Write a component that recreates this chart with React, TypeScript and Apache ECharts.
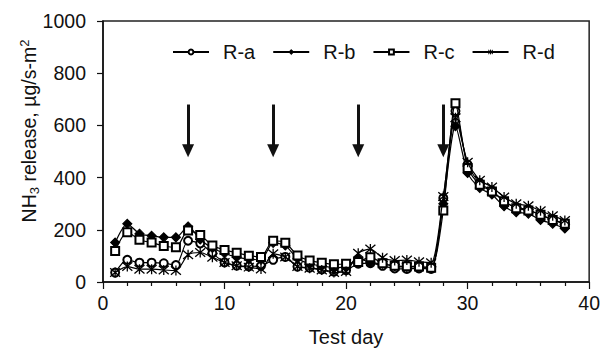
import React, { useEffect, useRef } from "react";
import * as echarts from "echarts";

const days = [1,2,3,4,5,6,7,8,9,10,11,12,13,14,15,16,17,18,19,20,21,22,23,24,25,26,27,28,29,30,31,32,33,34,35,36,37,38];
const seriesNames = ["R-a", "R-b", "R-c", "R-d"];
const ra = [36,85,74,74,72,65,158,148,110,75,63,60,62,85,96,59,55,48,40,45,70,72,62,52,50,52,50,322,655,450,379,350,310,285,278,255,240,222];
const rb = [151,223,185,177,171,171,213,163,130,110,95,88,85,150,140,90,70,62,55,58,90,74,70,60,58,58,55,300,597,418,360,335,290,267,262,238,223,205];
const rc = [119,191,162,151,138,133,197,180,140,123,112,101,96,158,150,102,82,74,68,70,77,95,72,62,60,59,55,274,685,437,373,347,309,283,274,258,238,223];
const rd = [36,59,49,49,46,44,104,113,95,75,62,57,50,108,96,59,53,46,36,40,110,126,93,82,84,78,74,328,629,459,390,364,326,300,292,273,254,236];
const arrowDays = [7, 14, 21, 28];
const ARROW_TOP = 680;
const ARROW_HEAD = 503;

const FONT = "Liberation Sans, Arial, sans-serif";
const STAR = "path://M0,-1L0,1M-0.85,-0.85L0.85,0.85M-0.85,0.85L0.85,-0.85";

export default function App() {
  const ref = useRef<HTMLDivElement>(null);
  useEffect(() => {
    if (!ref.current) return;
    const chart = echarts.init(ref.current, null, { renderer: "svg" });
    const mk = (vals: number[]) => days.map((d, i) => [d, vals[i]]);
    const symbols = ["emptyCircle", "diamond", "emptyRect", STAR];
    const sizes = [8, 9, 8, 10];
    const data = [ra, rb, rc, rd];
    const series: any[] = data.map((vals, i) => ({
      type: "line",
      name: seriesNames[i],
      data: mk(vals),
      symbol: symbols[i],
      symbolSize: sizes[i],
      showAllSymbol: true,
      smooth: 0.25,
      lineStyle: { color: "#000", width: 1.2 },
      itemStyle: {
        color: "#000",
        borderColor: "#000",
        borderWidth: i === 3 ? 1.3 : 1.1,
      },
      emphasis: { disabled: true },
      z: 3 + i,
    }));
    series[0].markLine = {
      silent: true,
      symbol: ["none", "triangle"],
      symbolSize: [12, 13],
      label: { show: false },
      lineStyle: { color: "#111", width: 3, type: "solid" },
      data: arrowDays.map((d) => [
        { coord: [d, ARROW_TOP] },
        { coord: [d, ARROW_HEAD] },
      ]),
    };
    chart.setOption({
      animation: false,
      backgroundColor: "#fff",
      textStyle: { fontFamily: FONT },
      grid: {
        left: 103,
        right: 10,
        top: 21,
        bottom: 70,
        show: true,
        borderColor: "#222",
        borderWidth: 1.5,
      },
      legend: {
        data: seriesNames,
        left: 167,
        top: 37,
        itemWidth: 36,
        itemHeight: 6,
        itemGap: 17,
        itemStyle: { borderWidth: 1 },
        textStyle: { fontSize: 20, color: "#111", fontFamily: FONT, padding: [0, 0, 0, 9] },
      },
      xAxis: {
        type: "value",
        min: 0,
        max: 40,
        interval: 10,
        name: "Test day",
        nameLocation: "middle",
        nameGap: 45,
        nameTextStyle: { fontSize: 20, color: "#111", fontFamily: FONT },
        axisLine: { show: true, lineStyle: { color: "#111", width: 1.5 } },
        axisTick: { show: true, length: 7, lineStyle: { color: "#111", width: 1.2 } },
        minorTick: { show: true, splitNumber: 5, length: 4, lineStyle: { color: "#111", width: 1.2 } },
        axisLabel: { fontSize: 19.5, color: "#111", margin: 11, fontFamily: FONT },
        splitLine: { show: false },
      },
      yAxis: {
        type: "value",
        min: 0,
        max: 1000,
        interval: 200,
        axisLine: { show: true, lineStyle: { color: "#111", width: 1.5 } },
        axisTick: { show: true, length: 6, lineStyle: { color: "#111", width: 1.2 } },
        axisLabel: {
          fontSize: 19.5,
          color: "#111",
          margin: 17,
          fontFamily: FONT,
          formatter: (v: number) => String(v),
        },
        splitLine: { show: false },
      },
      graphic: [
        {
          type: "text",
          x: 29,
          y: 131,
          rotation: Math.PI / 2,
          style: {
            text: "NH{sub|3} release, µg/s-m{sup|2}",
            fontSize: 19.5,
            fontFamily: FONT,
            fill: "#111",
            align: "center",
            verticalAlign: "middle",
            rich: {
              sub: { fontSize: 13, fontFamily: FONT, fill: "#111", padding: [10, 0, 0, 0] },
              sup: { fontSize: 13, fontFamily: FONT, fill: "#111", padding: [0, 0, 10, 0] },
            },
          },
        },
      ],
      series,
    });
    return () => chart.dispose();
  }, []);
  return (
    <div
      ref={ref}
      style={{ position: "fixed", left: 0, top: 0, width: 603, height: 352 }}
    />
  );
}
